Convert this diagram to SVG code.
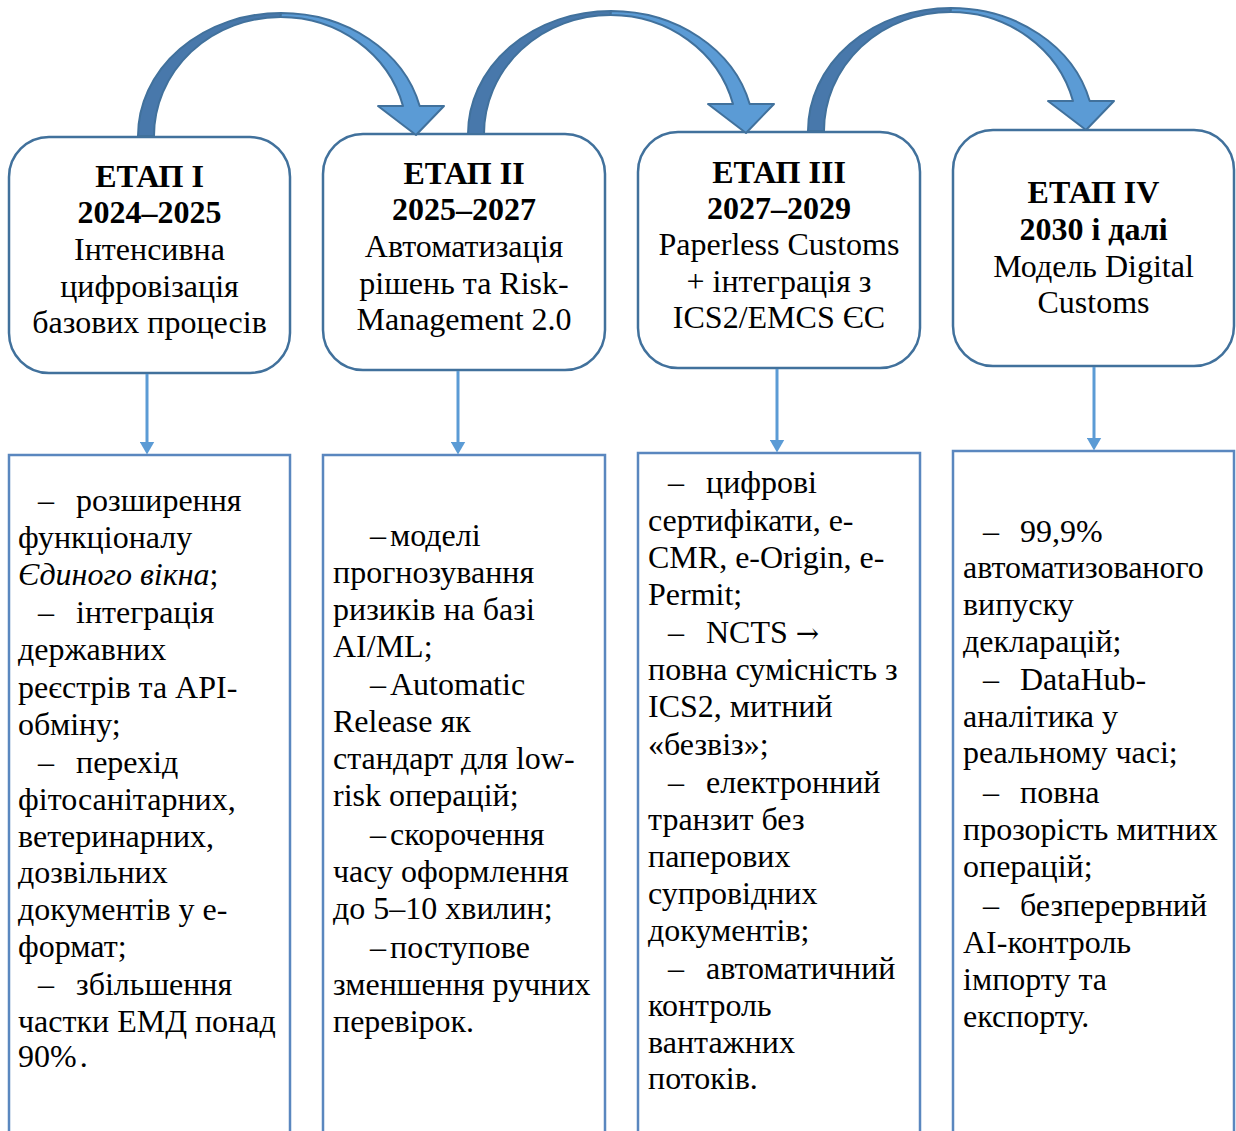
<svg xmlns="http://www.w3.org/2000/svg" xmlns:xlink="http://www.w3.org/1999/xlink" width="1236" height="1131" viewBox="0 0 1236 1131">
<style>
.t{font-family:"Liberation Serif","Times New Roman",serif;font-size:32px;fill:#000}
.b{font-weight:bold}
.c{text-anchor:middle}
.i{font-style:italic}
.ar{font-family:"DejaVu Serif",serif;font-size:28px}
.stage{fill:#fff;stroke:#41719c;stroke-width:2.5}
.detail{fill:#fff;stroke:#5a87bf;stroke-width:2.5}
.down{stroke:#5b9bd5;stroke-width:3;fill:none}
.dark{fill:#4878ab;stroke:#41719c;stroke-width:2;stroke-linejoin:round}
.light{fill:#5b9bd5;stroke:#41719c;stroke-width:2;stroke-linejoin:round}
</style>
<defs>
<marker id="tri" viewBox="0 0 13 15" refX="0.5" refY="7.5" markerWidth="13" markerHeight="15" markerUnits="userSpaceOnUse" orient="auto">
<path d="M0,0 L13,7.5 L0,15 Z" fill="#5b9bd5"/>
</marker>
<g id="curve">
<path class="dark" d="M138,136 A143,123 0 0 1 281,13 L280.6,17 A126.6,119 0 0 0 154,136 Z"/>
<path class="light" d="M281,13 A143,123 0 0 1 419.7,106 L444,106 L416,135 L378,106 L403,106 A126.6,119 0 0 0 280.6,17 Z"/>
</g>
</defs>
<rect width="1236" height="1131" fill="#fff"/>

<g id="stage1">
<rect class="stage" x="9" y="137" width="281" height="236" rx="40"/>
<text class="t c b" x="149.5" y="187">ЕТАП І</text>
<text class="t c b" x="149.5" y="223">2024–2025</text>
<text class="t c" x="149.5" y="260">Інтенсивна</text>
<text class="t c" x="149.5" y="297">цифровізація</text>
<text class="t c" x="149.5" y="333">базових процесів</text>
</g>
<g id="stage2">
<rect class="stage" x="323" y="134" width="282" height="236" rx="40"/>
<text class="t c b" x="464" y="184">ЕТАП ІІ</text>
<text class="t c b" x="464" y="220">2025–2027</text>
<text class="t c" x="464" y="257">Автоматизація</text>
<text class="t c" x="464" y="294">рішень та Risk-</text>
<text class="t c" x="464" y="330">Management 2.0</text>
</g>
<g id="stage3">
<rect class="stage" x="638" y="132" width="282" height="236" rx="40"/>
<text class="t c b" x="779" y="183">ЕТАП ІІІ</text>
<text class="t c b" x="779" y="219">2027–2029</text>
<text class="t c" x="779" y="255">Paperless Customs</text>
<text class="t c" x="779" y="292">+ інтеграція з</text>
<text class="t c" x="779" y="328">ICS2/EMCS ЄС</text>
</g>
<g id="stage4">
<rect class="stage" x="953" y="130" width="281" height="236" rx="40"/>
<text class="t c b" x="1093.5" y="203">ЕТАП IV</text>
<text class="t c b" x="1093.5" y="240">2030 і далі</text>
<text class="t c" x="1093.5" y="277">Модель Digital</text>
<text class="t c" x="1093.5" y="313">Customs</text>
</g>

<g id="details1">
<rect class="detail" x="9" y="455" width="281" height="700"/>
<text class="t" y="511"><tspan x="38">– </tspan><tspan x="76">розширення</tspan></text>
<text class="t" x="18" y="548">функціоналу</text>
<text class="t" x="18" y="585"><tspan class="i">Єдиного вікна</tspan>;</text>
<text class="t" y="623"><tspan x="38">– </tspan><tspan x="76">інтеграція</tspan></text>
<text class="t" x="18" y="660">державних</text>
<text class="t" x="18" y="698">реєстрів та API-</text>
<text class="t" x="18" y="735">обміну;</text>
<text class="t" y="773"><tspan x="38">– </tspan><tspan x="76">перехід</tspan></text>
<text class="t" x="18" y="810">фітосанітарних,</text>
<text class="t" x="18" y="847">ветеринарних,</text>
<text class="t" x="18" y="883">дозвільних</text>
<text class="t" x="18" y="920">документів у е-</text>
<text class="t" x="18" y="957">формат;</text>
<text class="t" y="995"><tspan x="38">– </tspan><tspan x="76">збільшення</tspan></text>
<text class="t" x="18" y="1032">частки ЕМД понад</text>
<text class="t" x="18" y="1067">90%<tspan dx="3">.</tspan></text>
</g>
<g id="details2">
<rect class="detail" x="323" y="455" width="282" height="700"/>
<text class="t" y="546"><tspan x="370">–</tspan><tspan x="390">моделі</tspan></text>
<text class="t" x="333" y="583">прогнозування</text>
<text class="t" x="333" y="620">ризиків на базі</text>
<text class="t" x="333" y="657">AI/ML;</text>
<text class="t" y="695"><tspan x="370">–</tspan><tspan x="390">Automatic</tspan></text>
<text class="t" x="333" y="732">Release як</text>
<text class="t" x="333" y="769">стандарт для low-</text>
<text class="t" x="333" y="806">risk операцій;</text>
<text class="t" y="845"><tspan x="370">–</tspan><tspan x="390">скорочення</tspan></text>
<text class="t" x="333" y="882">часу оформлення</text>
<text class="t" x="333" y="919">до 5–10 хвилин;</text>
<text class="t" y="958"><tspan x="370">–</tspan><tspan x="390">поступове</tspan></text>
<text class="t" x="333" y="995">зменшення ручних</text>
<text class="t" x="333" y="1032">перевірок.</text>
</g>
<g id="details3">
<rect class="detail" x="638" y="453" width="282" height="700"/>
<text class="t" y="493"><tspan x="668">– </tspan><tspan x="706">цифрові</tspan></text>
<text class="t" x="648" y="531">сертифікати, е-</text>
<text class="t" x="648" y="568">CMR, e-Origin, e-</text>
<text class="t" x="648" y="605">Permit;</text>
<text class="t" y="643"><tspan x="668">– </tspan><tspan x="706">NCTS </tspan><tspan class="ar">→</tspan></text>
<text class="t" x="648" y="680">повна сумісність з</text>
<text class="t" x="648" y="717">ICS2, митний</text>
<text class="t" x="648" y="755">«безвіз»;</text>
<text class="t" y="793"><tspan x="668">– </tspan><tspan x="706">електронний</tspan></text>
<text class="t" x="648" y="830">транзит без</text>
<text class="t" x="648" y="867">паперових</text>
<text class="t" x="648" y="904">супровідних</text>
<text class="t" x="648" y="941">документів;</text>
<text class="t" y="979"><tspan x="668">– </tspan><tspan x="706">автоматичний</tspan></text>
<text class="t" x="648" y="1016">контроль</text>
<text class="t" x="648" y="1053">вантажних</text>
<text class="t" x="648" y="1089">потоків.</text>
</g>
<g id="details4">
<rect class="detail" x="953" y="451" width="281" height="700"/>
<text class="t" y="542"><tspan x="983">– </tspan><tspan x="1020">99,9%</tspan></text>
<text class="t" x="963" y="578">автоматизованого</text>
<text class="t" x="963" y="615">випуску</text>
<text class="t" x="963" y="652">декларацій;</text>
<text class="t" y="690"><tspan x="983">– </tspan><tspan x="1020">DataHub-</tspan></text>
<text class="t" x="963" y="727">аналітика у</text>
<text class="t" x="963" y="763">реальному часі;</text>
<text class="t" y="803"><tspan x="983">– </tspan><tspan x="1020">повна</tspan></text>
<text class="t" x="963" y="840">прозорість митних</text>
<text class="t" x="963" y="877">операцій;</text>
<text class="t" y="916"><tspan x="983">– </tspan><tspan x="1020">безперервний</tspan></text>
<text class="t" x="963" y="953">AI-контроль</text>
<text class="t" x="963" y="990">імпорту та</text>
<text class="t" x="963" y="1027">експорту.</text>
</g>

<g id="connectors">
<use xlink:href="#curve" href="#curve"/>
<use xlink:href="#curve" href="#curve" transform="translate(330,-2)"/>
<use xlink:href="#curve" href="#curve" transform="translate(670,-5)"/>
<line class="down" x1="147" y1="374" x2="147" y2="442" marker-end="url(#tri)"/>
<line class="down" x1="458" y1="371" x2="458" y2="442" marker-end="url(#tri)"/>
<line class="down" x1="777" y1="369" x2="777" y2="440" marker-end="url(#tri)"/>
<line class="down" x1="1094" y1="367" x2="1094" y2="438" marker-end="url(#tri)"/>
</g>
</svg>
